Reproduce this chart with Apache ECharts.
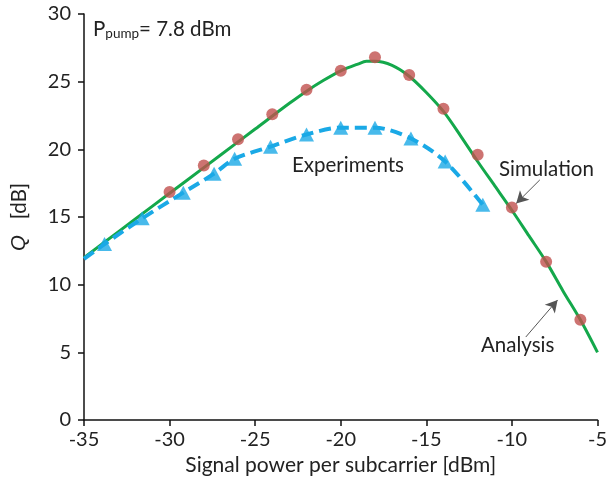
<!DOCTYPE html>
<html><head><meta charset="utf-8">
<script src="https://cdn.jsdelivr.net/npm/echarts@6/dist/echarts.min.js"></script>
<style>html,body{margin:0;padding:0;background:#fff}#c{width:610px;height:491px}</style>
</head><body><div id="c"></div>
<script>
// Analysis (green solid curve)
const xAna = [-35,-33,-31,-29,-27,-25,-23,-22,-21,-20,-19,-18.5,-18,-17,-16,-15,-14,-13,-12,-11,-10,-9,-8,-7,-6,-5];
const qAna = [12.0,13.9,15.8,17.7,19.6,21.5,23.4,24.3,25.1,25.8,26.3,26.5,26.5,26.2,25.4,24.2,22.8,21.0,19.1,17.3,15.5,13.6,11.7,9.5,7.4,5.0];
// Simulation (red circles)
const xSim = [-30,-28,-26,-24,-22,-20,-18,-16,-14,-12,-10,-8,-6];
const qSim = [16.85,18.8,20.75,22.6,24.4,25.8,26.8,25.5,23.0,19.6,15.7,11.7,7.4];
// Experiments (blue triangles, dashed fit)
const xExp = [-33.8,-31.6,-29.2,-27.4,-26.2,-24.1,-22,-20,-18,-15.9,-13.9,-11.7];
const qExp = [13.0,14.9,16.8,18.2,19.3,20.2,21.1,21.6,21.6,20.8,19.1,15.9];
const expStart = [-35, 11.9];
const xTicks = [-35,-30,-25,-20,-15,-10,-5];
const yTicks = [0,5,10,15,20,25,30];

const FONT = 'Lato';
const chart = echarts.init(document.getElementById('c'), null, {renderer:'canvas'});
const zip = (a,b) => a.map((v,i)=>[v,b[i]]);
const expLine = [expStart].concat(zip(xExp,qExp));

chart.setOption({
  animation:false,
  textStyle:{fontFamily:FONT},
  grid:{left:84,right:10,top:14,bottom:71},
  xAxis:{type:'value',min:xTicks[0],max:xTicks[xTicks.length-1],interval:5,
    name:'Signal power per subcarrier [dBm]',nameLocation:'middle',nameGap:33,
    nameTextStyle:{fontFamily:FONT,fontSize:21,color:'#222'},
    axisLine:{lineStyle:{color:'#111',width:1.5}},
    axisTick:{length:6,lineStyle:{color:'#111',width:1.5}},
    axisLabel:{fontFamily:FONT,fontSize:20,color:'#222',margin:10},
    splitLine:{show:false}},
  yAxis:{type:'value',min:yTicks[0],max:yTicks[yTicks.length-1],interval:5,
    name:'{i|Q}   [dB]',nameLocation:'middle',nameGap:54,
    nameTextStyle:{fontFamily:FONT,fontSize:20.5,color:'#222',rich:{i:{fontStyle:'italic',fontFamily:'Liberation Sans',fontSize:20.5,color:'#222'}}},
    axisLine:{show:true,lineStyle:{color:'#111',width:1.5}},
    axisTick:{show:true,length:6,lineStyle:{color:'#111',width:1.5}},
    axisLabel:{fontFamily:FONT,fontSize:20,color:'#222',margin:13},
    splitLine:{show:false}},
  series:[
    {type:'line',name:'Analysis',data:zip(xAna,qAna),smooth:0.3,showSymbol:false,
     lineStyle:{color:'#14a84b',width:3},z:2,
     markLine:{silent:true,symbol:['none','arrow'],symbolSize:[10,12],label:{show:false},
       lineStyle:{color:'#555',width:1,type:'solid'},
       data:[
         [{coord:[-8.37,17.74]},{coord:[-9.75,16.0]}],
         [{coord:[-9.19,6.13]},{coord:[-7.33,8.87]}]
       ]}},
    {type:'line',name:'Experiments line',data:expLine,smooth:0.3,showSymbol:false,
     lineStyle:{color:'#1aa9e6',width:4,type:[12,6]},z:2},
    {type:'scatter',name:'Experiments',data:zip(xExp,qExp),symbol:'triangle',symbolSize:[15,14],
     itemStyle:{color:'#1aa9e6'},z:4},
    {type:'scatter',name:'Simulation',data:zip(xSim,qSim),symbol:'circle',symbolSize:12,
     itemStyle:{color:'#c0504d'},z:5}
  ],
  graphic:[
    {type:'text',left:93,top:19,style:{text:'P{s|pump}= 7.8 dBm',fontFamily:FONT,fontSize:20.5,fill:'#222',
      rich:{s:{fontSize:13.5,fontFamily:FONT,fill:'#222',verticalAlign:'bottom',padding:[9,0,0,0]}}}},
    {type:'text',left:292,top:155,style:{text:'Experiments',fontFamily:FONT,fontSize:20.5,fill:'#222'}},
    {type:'text',left:499,top:159,style:{text:'Simulation',fontFamily:FONT,fontSize:20.5,fill:'#222'}},
    {type:'text',left:481,top:335,style:{text:'Analysis',fontFamily:FONT,fontSize:20.5,fill:'#222'}}
  ]
});
</script></body></html>
